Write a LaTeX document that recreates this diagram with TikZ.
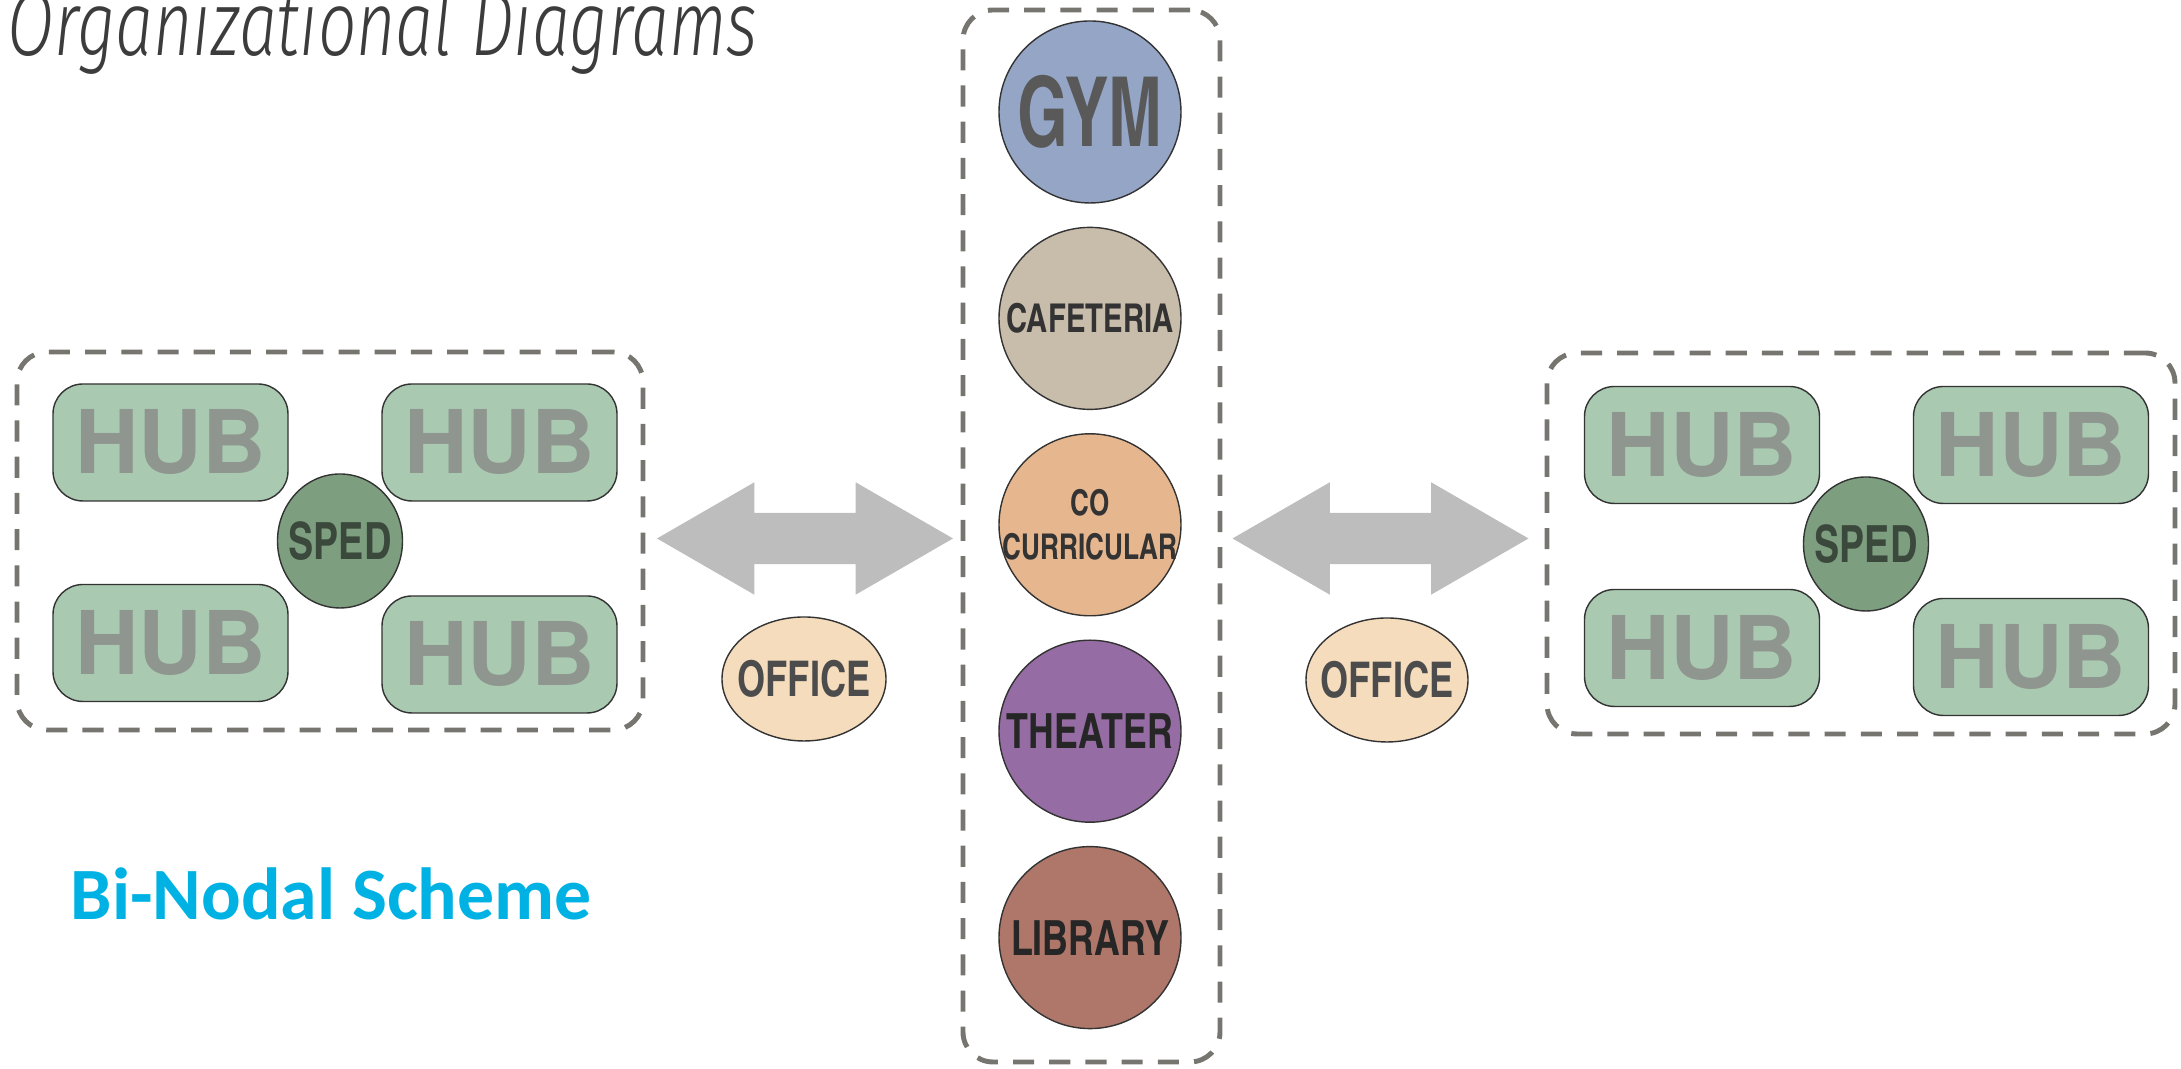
\documentclass[tikz,border=0pt]{standalone}
\usepackage{fontspec}
\usepackage{tikz}
\usetikzlibrary{positioning, shapes.geometric, shapes.arrows}

\setmainfont{TeX Gyre Heros}
\newfontfamily\condfont[FakeStretch=0.9]{texgyreheroscn-bold.otf}
\newfontfamily\tallfont[FakeStretch=0.82]{texgyreheroscn-bold.otf}
\newfontfamily\titlefont[FakeStretch=0.74]{Fira Sans Light Italic}
\newfontfamily\schemefont{Carlito}

\definecolor{dashgray}{HTML}{77756F}
\definecolor{titlegray}{HTML}{3C3C3C}
\definecolor{schemeblue}{HTML}{00B2E3}
\definecolor{hubgreen}{HTML}{A9C9B1}
\definecolor{hubtext}{HTML}{8F968F}
\definecolor{spedgreen}{HTML}{7E9E80}
\definecolor{spedtext}{HTML}{3B483C}
\definecolor{gymblue}{HTML}{94A5C6}
\definecolor{cafetan}{HTML}{C8BCAB}
\definecolor{coorange}{HTML}{E6B78F}
\definecolor{theaterpurple}{HTML}{956CA3}
\definecolor{librarybrown}{HTML}{AE776A}
\definecolor{officetan}{HTML}{F5DCBC}
\definecolor{arrowgray}{HTML}{BDBDBD}

\begin{document}
\begin{tikzpicture}[
	wing/.style={draw=dashgray, line width=1.4pt, dash pattern=on 6pt off 4.3pt,
		rounded corners=0.3cm, minimum width=6.26cm, minimum height=3.78cm},
	hub/.style={draw=black!80, fill=hubgreen, rounded corners=0.3cm, inner sep=0pt,
		minimum width=2.35cm, minimum height=1.17cm, text=hubtext,
		font=\bfseries\fontsize{25}{25}\selectfont},
	sped/.style={ellipse, draw=black!80, fill=spedgreen, inner xsep=-0.08cm, inner ysep=0pt,
		minimum width=1.25cm, minimum height=1.34cm, text=spedtext,
		font=\condfont\fontsize{14.6}{15}\selectfont},
	space/.style={circle, draw=black!80, inner sep=0pt, minimum size=1.82cm, align=center},
	office/.style={ellipse, draw=black!80, fill=officetan, inner xsep=-0.1cm, inner ysep=0pt,
		minimum width=1.64cm, minimum height=1.24cm, text=black!70,
		font=\condfont\fontsize{14}{14}\selectfont},
	link/.style={double arrow, fill=arrowgray, inner xsep=0pt, inner ysep=0.25cm,
		double arrow tip angle=60, double arrow head extend=0.305cm,
		minimum height=2.96cm}
]
\useasboundingbox (0,0) rectangle (21.81,10.69);

% title
\node [anchor=base west, inner sep=0pt, text=titlegray,
	font=\titlefont\fontsize{26}{26}\selectfont] (title) at (0.07,10.13) {Organizational Diagrams};

% left wing
\node [wing] (wingL) at (3.30,5.28) {};
\node [hub] (hubLa) at (1.705,6.265) {HUB};
\node [hub] (hubLb) at (4.995,6.265) {HUB};
\node [hub] (hubLc) at (1.705,4.26) {HUB};
\node [hub] (hubLd) at (4.995,4.145) {HUB};
\node [sped] (spedL) at (3.40,5.28) {SPED};

% shared core
\node [wing, minimum width=2.57cm, minimum height=10.52cm] (core) at (10.915,5.33) {};
\node [space, fill=gymblue, text=black!65, font=\tallfont\fontsize{27.5}{28}\selectfont] (gym) at (10.90,9.57) {GYM};
\node [space, fill=cafetan, text=black!80, font=\condfont\fontsize{11.3}{12}\selectfont, below=0.23cm of gym] (cafe) {CAFETERIA};
\node [space, fill=coorange, text=black!80, inner sep=-0.08cm, font=\condfont\fontsize{10.1}{12.5}\selectfont, below=0.23cm of cafe] (cocurr) {CO\\CURRICULAR};
\node [space, fill=theaterpurple, text=black!85, font=\condfont\fontsize{13.8}{14}\selectfont, below=0.23cm of cocurr] (theater) {THEATER};
\node [space, fill=librarybrown, text=black!85, font=\condfont\fontsize{13.8}{14}\selectfont, below=0.23cm of theater] (library) {LIBRARY};

% right wing
\node [wing, minimum width=6.28cm, minimum height=3.81cm] (wingR) at (18.61,5.255) {};
\node [hub] (hubRa) at (17.02,6.24) {HUB};
\node [hub] (hubRb) at (20.31,6.24) {HUB};
\node [hub] (hubRc) at (17.02,4.21) {HUB};
\node [hub] (hubRd) at (20.31,4.12) {HUB};
\node [sped] (spedR) at (18.66,5.25) {SPED};

% links and offices
\node [link] (linkL) at (8.05,5.305) {};
\node [office] (officeL) at (8.04,3.90) {OFFICE};
\node [link] (linkR) at (13.805,5.305) {};
\node [office, minimum width=1.62cm] (officeR) at (13.87,3.89) {OFFICE};

% caption
\node [anchor=base west, inner sep=0pt, text=schemeblue,
	font=\schemefont\bfseries\fontsize{21}{22}\selectfont] (scheme) at (0.70,1.49) {Bi-Nodal Scheme};

\end{tikzpicture}
\end{document}
